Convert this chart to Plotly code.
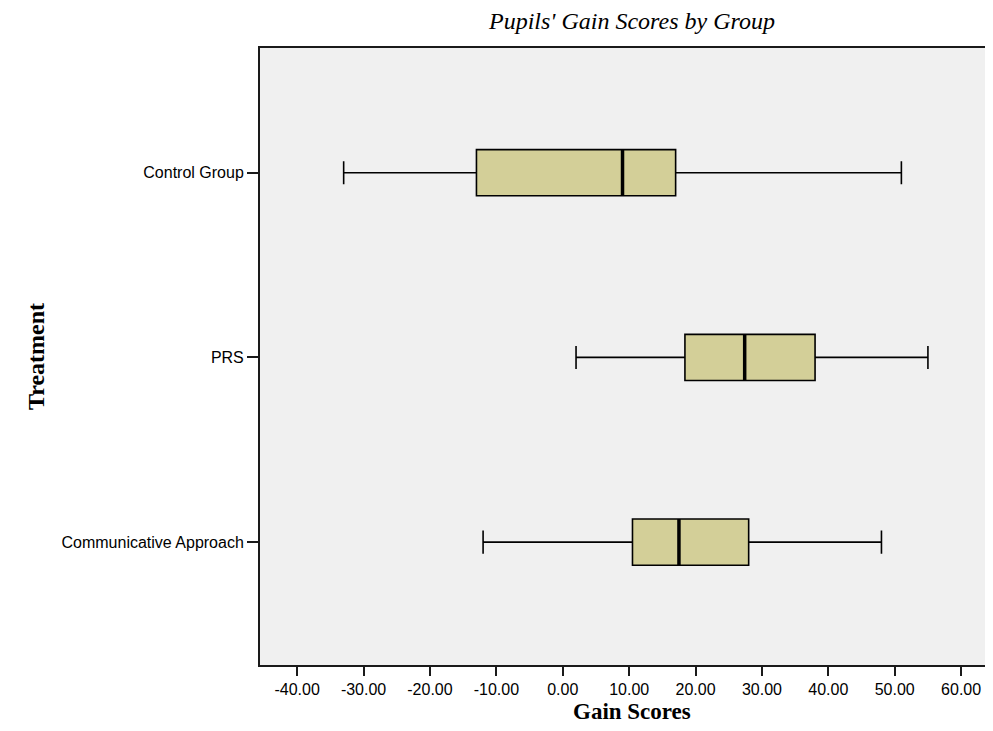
import plotly.graph_objects as go

categories = ["Control Group", "PRS", "Communicative Approach"]
positions = [0, 1, 2]
lower_whisker = [-33.0, 2.0, -12.0]
q1_vals = [-13.0, 18.4, 10.5]
median_vals = [9.0, 27.4, 17.5]
q3_vals = [17.0, 38.0, 28.0]
upper_whisker = [51.0, 55.0, 48.0]
x_ticks = [-40, -30, -20, -10, 0, 10, 20, 30, 40, 50, 60]
x_tick_labels = [f"{v:.2f}" for v in x_ticks]

# the page body adds an 8px margin; the figure is sized/offset to compensate
W, H = 985, 715
BOX_W = 0.25
fig = go.Figure()
fig.add_trace(go.Box(
    y=positions, q1=q1_vals, median=median_vals, q3=q3_vals,
    lowerfence=lower_whisker, upperfence=upper_whisker,
    orientation="h", boxpoints=False, width=BOX_W, whiskerwidth=0.5,
    fillcolor="#d3cf98", line=dict(color="#000000", width=1.6),
    showlegend=False, hoverinfo="skip",
))
mx, my = [], []
for p, m in zip(positions, median_vals):
    mx += [m, m, None]
    my += [p - BOX_W / 2, p + BOX_W / 2, None]
fig.add_trace(go.Scatter(x=mx, y=my, mode="lines",
                         line=dict(color="#000000", width=3.5),
                         showlegend=False, hoverinfo="skip"))

serif = "Liberation Serif, Times New Roman, serif"
fig.update_layout(
    width=W, height=H,
    margin=dict(l=252, r=0, t=40, b=58),
    paper_bgcolor="#ffffff", plot_bgcolor="#f0f0f0",
    font=dict(family="Liberation Sans, Arial, sans-serif", size=16, color="#000000"),
    title=dict(text="<i>Pupils' Gain Scores by Group</i>",
               font=dict(family=serif, size=24, color="#000000"),
               x=624 / W, xref="container", xanchor="center",
               y=1 - 13 / H, yref="container", yanchor="middle"),
    annotations=[dict(text="<b>Gain Scores</b>", xref="paper", yref="paper",
                      x=(624 - 252) / (W - 252), y=-58 / (H - 40 - 58),
                      xanchor="center", yanchor="bottom", yshift=-2,
                      showarrow=False, borderpad=0,
                      font=dict(family=serif, size=23, color="#000000"))],
)
fig.update_xaxes(
    range=[-45.6, 64.8], tickvals=x_ticks, ticktext=x_tick_labels,
    showgrid=False, zeroline=False, showline=True, mirror=True,
    linecolor="#1a1a1a", linewidth=2, ticks="outside", ticklen=9,
    tickwidth=2, tickcolor="#1a1a1a", automargin=False,
    tickfont=dict(size=16),
)
fig.update_yaxes(
    range=[2.665, -0.675], tickvals=positions, ticktext=categories,
    showgrid=False, zeroline=False, showline=True, mirror=False,
    linecolor="#1a1a1a", linewidth=2, ticks="outside", ticklen=11,
    tickwidth=2, tickcolor="#1a1a1a", automargin=False,
    tickfont=dict(size=16),
    title=dict(text="<b>Treatment</b>", standoff=10,
               font=dict(family=serif, size=24)),
)
fig.write_html("out.html")
